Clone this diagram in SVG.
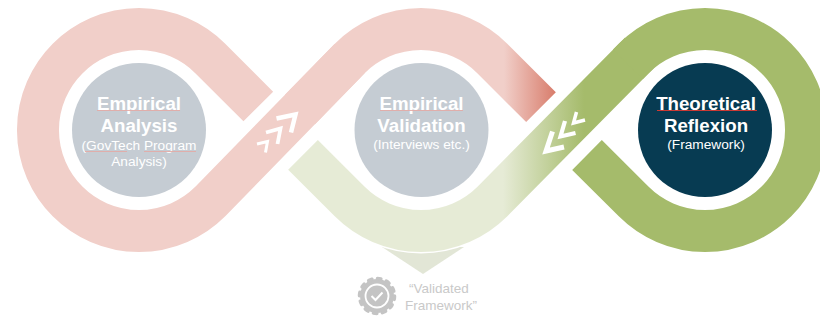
<svg xmlns="http://www.w3.org/2000/svg" width="820" height="324" viewBox="0 0 820 324">
<style>
.band{fill:none;stroke-width:42;stroke-linecap:butt;stroke-linejoin:round}
.hd{font-family:"Liberation Sans",Arial,sans-serif;font-weight:700;font-size:18.7px;fill:#fff;text-anchor:middle}
.sub{font-family:"Liberation Sans",Arial,sans-serif;font-size:13.7px;fill:#fff;text-anchor:middle}
.cap{font-family:"Liberation Sans",Arial,sans-serif;font-size:13.5px;fill:#c9c9c9;text-anchor:middle}
.chev{fill:none;stroke:#fff;stroke-linejoin:miter;stroke-linecap:butt}
.sq{fill:none;stroke:#e3aaa6;stroke-width:.9}
.sqr{fill:none;stroke:#cc3a34;stroke-width:1.200}
</style>
<defs>
<linearGradient id="gp" gradientUnits="userSpaceOnUse" x1="504" y1="0" x2="556" y2="0"><stop offset="0" stop-color="#f1cfc9"/><stop offset="1" stop-color="#d87c6b"/></linearGradient>
<linearGradient id="gg" gradientUnits="userSpaceOnUse" x1="503" y1="0" x2="584" y2="0"><stop offset="0" stop-color="#e6ebd6"/><stop offset="1" stop-color="#a5bb6b"/></linearGradient>
</defs>
<rect width="820" height="324" fill="#fff"/>
<g id="connectors">
<path d="M382,247H464L423,274Z" fill="#e2e6d6"/>
<path class="band" d="M258.3,106.500L210.4,58.6A101,101 0 1 0 210.4,201.4L349.6,58.6" stroke="#f1cfc9"/>
<path class="band" d="M300,109.500L349.6,58.6A101,101 0 0 1 492.4,58.6L541,107.2" stroke="url(#gp)"/>
<path d="M492.4,201.4A101,101 0 0 1 349.6,201.4" fill="none" stroke="#fff" stroke-width="45"/>
<path class="band" d="M640,52.200L492.4,201.4A101,101 0 0 1 349.6,201.4L303,154.8" stroke="url(#gg)"/>
<path class="band" d="M587,155L633.6,201.4A101,101 0 1 0 633.6,58.6L628,64.300" stroke="#a5bb6b"/>
</g>
<g id="chevrons-up">
<path class="chev" stroke-width="4.500" d="M276.500,118.500L295.500,114.500L291,132.500"/>
<path class="chev" stroke-width="3.800" d="M266,132.500L280.500,128.500L277.500,144"/>
<path class="chev" stroke-width="3" d="M257,144L267.500,141.500L265.500,152.500"/>
</g>
<g id="chevrons-down">
<path class="chev" stroke-width="5" d="M552.500,131.500L546,151L564,147"/>
<path class="chev" stroke-width="4.200" d="M565,121L560.500,136.500L575.500,133"/>
<path class="chev" stroke-width="3.500" d="M576.500,112L573.500,123L585,120"/>
</g>
<g id="node-analysis">
<circle cx="139" cy="130" r="67" fill="#c5ccd3"/>
<text class="hd" x="139" y="109.500">Empirical</text>
<text class="hd" x="139" y="132">Analysis</text>
<text class="sub" x="139" y="150">(GovTech Program</text>
<text class="sub" x="139" y="166">Analysis)</text>
<path class="sq" d="M97,110.500H180M85,151.500H127M144,151.500H196"/>
</g>
<g id="node-validation">
<circle cx="421.500" cy="130" r="67" fill="#c5ccd3"/>
<text class="hd" x="421.500" y="109.500">Empirical</text>
<text class="hd" x="421.500" y="132">Validation</text>
<text class="sub" x="421.500" y="149">(Interviews etc.)</text>
<path class="sq" d="M380,110.500H463"/>
</g>
<g id="node-reflexion">
<circle cx="705" cy="130" r="67" fill="#073b52"/>
<text class="hd" x="706" y="109.500">Theoretical</text>
<text class="hd" x="706" y="132">Reflexion</text>
<text class="sub" x="706" y="149">(Framework)</text>
<path class="sqr" d="M657,110.500H757"/>
</g>
<g id="node-validated">
<circle cx="377" cy="296" r="17" fill="#c4c4c4"/>
<circle cx="377" cy="296" r="17.500" fill="none" stroke="#c4c4c4" stroke-width="3.500" stroke-linecap="round" stroke-dasharray="3.500 5.660"/>
<circle cx="377" cy="296" r="11.500" fill="none" stroke="#fff" stroke-width="1.800"/>
<path d="M371.500,296L375.500,300L382.500,292.500" fill="none" stroke="#fff" stroke-width="2"/>
<text class="cap" x="439" y="293">“Validated</text>
<text class="cap" x="441" y="310">Framework”</text>
</g>
</svg>
